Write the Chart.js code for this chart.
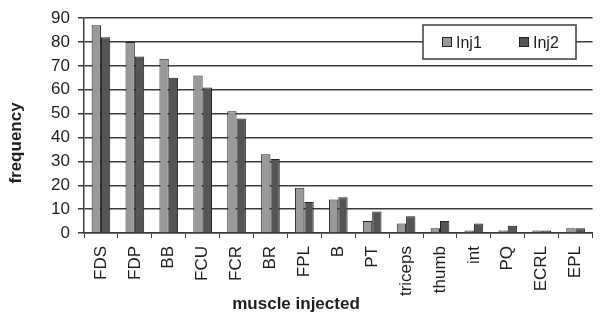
<!DOCTYPE html>
<html>
<head>
<meta charset="utf-8">
<script src="https://cdn.jsdelivr.net/npm/chart.js@4.4.1/dist/chart.umd.min.js"></script>
<style>
  html, body { margin: 0; padding: 0; background: #ffffff; }
  #wrap { width: 604px; height: 314px; }
</style>
</head>
<body>
<div id="wrap"><canvas id="c" width="604" height="314"></canvas></div>
<script>
const categories = ["FDS", "FDP", "BB", "FCU", "FCR", "BR", "FPL", "B", "PT", "triceps", "thumb", "int", "PQ", "ECRL", "EPL"];
const inj1 = [87, 80, 73, 66, 51, 33, 19, 14, 5, 4, 2, 1, 1, 1, 2];
const inj2 = [82, 74, 65, 61, 48, 31, 13, 15, 9, 7, 5, 4, 3, 1, 2];
const seriesNames = ["Inj1", "Inj2"];
const yTicks = [0, 10, 20, 30, 40, 50, 60, 70, 80, 90];
const xTitle = "muscle injected";
const yTitle = "frequency";

const FONT = "'Liberation Sans', Arial, sans-serif";
const TEXT = "#1e1e1e";
const LINE = "#3c3c3c";
const C1 = "#999999";
const C2 = "#555555";

const overlay = {
  id: 'overlay',
  afterDraw(chart) {
    const ctx = chart.ctx;
    ctx.save();
    // axis titles
    ctx.fillStyle = TEXT;
    ctx.font = "bold 17px " + FONT;
    ctx.textAlign = "center";
    ctx.textBaseline = "alphabetic";
    ctx.fillText(xTitle, 296, 309);
    ctx.translate(21, 143);
    ctx.rotate(-Math.PI / 2);
    ctx.fillText(yTitle, 0, 0);
    ctx.restore();

    // legend
    ctx.save();
    ctx.fillStyle = "#ffffff";
    ctx.fillRect(423, 25, 153, 34);
    ctx.strokeStyle = LINE;
    ctx.lineWidth = 1.5;
    ctx.strokeRect(423, 25, 153, 34);
    const items = [
      { x: 442, color: C1, name: seriesNames[0] },
      { x: 519, color: C2, name: seriesNames[1] }
    ];
    ctx.font = "16px " + FONT;
    ctx.textAlign = "left";
    ctx.textBaseline = "alphabetic";
    items.forEach(it => {
      ctx.fillStyle = it.color;
      ctx.fillRect(it.x + 0.5, 37.5, 9, 9);
      ctx.strokeStyle = "#222";
      ctx.lineWidth = 1;
      ctx.strokeRect(it.x + 0.5, 37.5, 9, 9);
      ctx.fillStyle = TEXT;
      ctx.fillText(it.name, it.x + 14, 48);
    });
    ctx.restore();
  }
};

new Chart(document.getElementById('c'), {
  type: 'bar',
  data: {
    labels: categories,
    datasets: [
      { label: seriesNames[0], data: inj1, backgroundColor: C1, borderColor: "#222", borderWidth: 1,
        categoryPercentage: 0.55, barPercentage: 1.0 },
      { label: seriesNames[1], data: inj2, backgroundColor: C2, borderColor: "#222", borderWidth: 1,
        categoryPercentage: 0.55, barPercentage: 1.0 }
    ]
  },
  options: {
    responsive: false,
    devicePixelRatio: 1,
    animation: false,
    layout: { padding: { top: 18, right: 0, left: 0, bottom: 0 } },
    plugins: { legend: { display: false }, tooltip: { enabled: false } },
    scales: {
      x: {
        grid: { drawOnChartArea: false, drawTicks: true, tickLength: 5, color: LINE, tickColor: LINE, offset: true },
        border: { color: LINE, width: 1.5 },
        ticks: { color: TEXT, font: { family: FONT, size: 17 }, minRotation: 90, maxRotation: 90, padding: 8, autoSkip: false },
        afterFit(scale) { scale.height = 81; }
      },
      y: {
        min: 0, max: 90,
        afterBuildTicks(scale) { scale.ticks = yTicks.map(v => ({ value: v })); },
        grid: { color: LINE, lineWidth: 1.5, tickLength: 6, tickColor: LINE },
        border: { color: LINE, width: 1.5 },
        ticks: { color: TEXT, font: { family: FONT, size: 17 }, padding: 8 },
        afterFit(scale) { scale.width = 84; }
      }
    }
  },
  plugins: [overlay]
});
</script>
</body>
</html>
